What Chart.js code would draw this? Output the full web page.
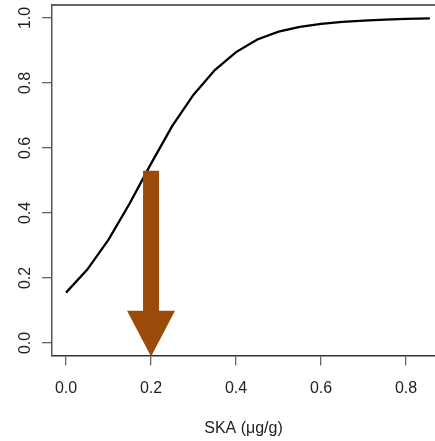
<!DOCTYPE html>
<html>
<head>
<meta charset="utf-8">
<script src="https://cdn.jsdelivr.net/npm/chart.js@4/dist/chart.umd.min.js"></script>
<style>
  html, body { margin: 0; padding: 0; background: #fff; overflow: hidden; }
  #wrap { width: 435px; height: 441px; }
</style>
</head>
<body>
<div id="wrap"><canvas id="curve"></canvas></div>
<script>
// SKA concentration (µg/g) and fitted probability
const skaValues = [0, 0.05, 0.10, 0.15, 0.20, 0.25, 0.30, 0.35, 0.40, 0.45, 0.50, 0.55, 0.60, 0.65, 0.70, 0.75, 0.80, 0.856];
const probValues = [0.155, 0.226, 0.318, 0.430, 0.552, 0.668, 0.764, 0.840, 0.895, 0.934, 0.958, 0.973, 0.982, 0.988, 0.992, 0.995, 0.997, 0.999];

const xTickValues = [0, 0.2, 0.4, 0.6, 0.8];
const yTickValues = [0, 0.2, 0.4, 0.6, 0.8, 1.0];

// arrow marking SKA = 0.2
const arrowX = 0.2;
const arrowTop = 0.53;
const arrowHeadTop = 0.099;

const axisFont = { family: "'Liberation Sans', Arial, sans-serif", size: 16 };

const arrowPlugin = {
    id: "arrowAndFrame",
    afterDatasetsDraw(chart) {
        const { ctx, chartArea, scales } = chart;
        const x = scales.x.getPixelForValue(arrowX);
        const yTop = scales.y.getPixelForValue(arrowTop);
        const yHead = scales.y.getPixelForValue(arrowHeadTop);
        const yTip = chartArea.bottom + 1;
        ctx.save();
        ctx.fillStyle = "#9a4b0a";
        ctx.fillRect(x - 8, yTop, 16, yHead - yTop + 1);
        ctx.beginPath();
        ctx.moveTo(x - 24, yHead);
        ctx.lineTo(x + 24, yHead);
        ctx.lineTo(x, yTip);
        ctx.closePath();
        ctx.fill();
        ctx.restore();
    },
    afterDraw(chart) {
        const { ctx, chartArea } = chart;
        ctx.save();
        ctx.strokeStyle = "#333";
        ctx.lineWidth = 1.5;
        ctx.beginPath();
        ctx.moveTo(chartArea.left, chartArea.top);
        ctx.lineTo(chartArea.right, chartArea.top);
        ctx.stroke();
        ctx.restore();
    },
};

const ctx = document.getElementById("curve").getContext("2d");
new Chart(ctx, {
    type: "line",
    data: {
        datasets: [
            {
                data: skaValues.map((v, i) => ({ x: v, y: probValues[i] })),
                borderColor: "#000",
                borderWidth: 2.3,
                pointRadius: 0,
                tension: 0,
                fill: false,
            },
        ],
    },
    options: {
        responsive: true,
        maintainAspectRatio: false,
        animation: false,
        layout: { padding: { top: 5, right: 0, bottom: 0, left: 0 } },
        plugins: {
            legend: { display: false },
            tooltip: { enabled: false },
        },
        scales: {
            x: {
                type: "linear",
                min: -0.033,
                max: 0.868,
                afterBuildTicks: (scale) => {
                    scale.ticks = xTickValues.map((v) => ({ value: v }));
                },
                afterFit: (scale) => {
                    scale.height = 85.4;
                    scale.paddingLeft = 0;
                    scale.paddingRight = 0;
                },
                grid: {
                    drawOnChartArea: false,
                    drawTicks: true,
                    tickLength: 10,
                    color: "#666",
                    lineWidth: 1.3,
                },
                border: { display: true, color: "#333", width: 1.5 },
                ticks: {
                    font: axisFont,
                    color: "#222",
                    padding: 13,
                    maxRotation: 0,
                    callback: (v) => Number(v).toFixed(1),
                },
                title: {
                    display: true,
                    text: "SKA (μg/g)",
                    font: axisFont,
                    color: "#222",
                    padding: { top: 0, bottom: 3 },
                },
            },
            y: {
                type: "linear",
                min: -0.0388,
                max: 1.04,
                afterBuildTicks: (scale) => {
                    scale.ticks = yTickValues.map((v) => ({ value: v }));
                },
                afterFit: (scale) => {
                    scale.width = 52;
                    scale.paddingTop = 0;
                    scale.paddingBottom = 0;
                },
                grid: {
                    drawOnChartArea: false,
                    drawTicks: true,
                    tickLength: 10,
                    color: "#666",
                    lineWidth: 1.3,
                },
                border: { display: true, color: "#555", width: 1.5 },
                ticks: {
                    font: axisFont,
                    color: "#222",
                    padding: 5.5,
                    minRotation: 90,
                    maxRotation: 90,
                    crossAlign: "center",
                    callback: (v) => Number(v).toFixed(1),
                },
            },
        },
    },
    plugins: [arrowPlugin],
});
</script>
</body>
</html>
